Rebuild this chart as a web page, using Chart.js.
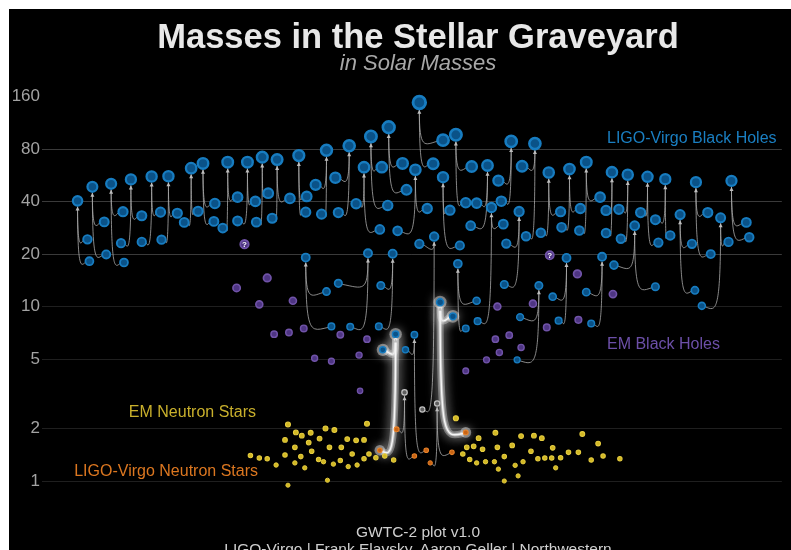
<!DOCTYPE html>
<html>
<head>
<meta charset="utf-8">
<script src="https://cdn.jsdelivr.net/npm/chart.js@4.4.1/dist/chart.umd.min.js"></script>
<style>
  html, body { margin: 0; padding: 0; background: #fff; overflow: hidden; }
  #frame { position: absolute; left: 9px; top: 9px; width: 782px; height: 541px; background: #000; overflow: hidden; }
  canvas { display: block; }
</style>
</head>
<body>
<div id="frame"><canvas id="graveyard" width="782" height="541"></canvas></div>
<script>
// --- DATA (masses in solar masses, x = column position on the plot) ---

const massTicks = [1, 2, 5, 10, 20, 40, 80, 160];

// LIGO-Virgo mergers: remnant + two components
const mergerX = [78, 93, 112, 132, 153, 170, 193, 205, 230, 250, 265, 280, 302, 330, 353, 368, 375, 393, 420, 424,
  461, 448, 493, 517, 497, 541, 525, 555, 576, 593, 619, 635, 655, 673, 704, 740, 729, 688, 642, 609,
  573, 545, 463, 309, 372, 397, 439, 419, 400, 445, 409, 442];
const remnantMass = [40.4, 48.6, 50.6, 53.6, 55.7, 55.9, 62.2, 66.2, 67.3, 67.3, 71.9, 69.7, 73.5, 78.8, 83.6, 63.0, 94.5, 106.8, 60.9, 148,
  96.6, 55.2, 64.4, 88.5, 37.0, 86.1, 35.1, 58.7, 61.5, 67.3, 59.0, 57.0, 55.5, 53.8, 51.7, 52.6, 32.3, 33.7, 29.1, 19.3,
  19.0, 13.2, 17.6, 19.1, 20.2, 20.1, 25.2, 6.9, 6.95, 10.6, 3.22, 2.78];
const firstX = [88, 105, 124, 143, 162, 179, 200, 217, 240, 258, 271, 293, 310, 319, 339, 360, 386, 407, 432, 448,
  477, 455, 482, 504, 509, 528, 512, 567, 587, 607, 613, 626, 648, 663, 716, 755, 737, 700, 621, 593,
  559, 526, 482, 330, 342, 385, 424, 410, 387, 458, 401, 457];
const firstMass = [24.3, 30.6, 35.0, 33.2, 34.8, 34.3, 35.2, 39.0, 42.4, 40.1, 44.7, 41.7, 42.8, 49.9, 54.8, 38.9, 63.0, 66.2, 36.5, 90.0,
  63.6, 35.7, 39.2, 52.8, 29.7, 63.8, 23.0, 35.0, 36.5, 42.4, 35.6, 36.1, 34.6, 31.5, 34.6, 30.4, 23.5, 22.9, 17.3, 12.1,
  11.4, 8.7, 10.8, 12.2, 13.6, 13.2, 22.9, 5.65, 5.65, 8.8, 1.98, 1.46];
const secondX = [90, 107, 125, 122, 143, 163, 186, 216, 225, 240, 259, 275, 309, 325, 342, 384, 392, 411, 402, 438,
  471, 465, 476, 507, 483, 532, 510, 547, 568, 586, 613, 628, 666, 678, 719, 758, 710, 703, 663, 598,
  565, 523, 471, 335, 354, 383, 427, 431, 384, 471, 419, 435];
const secondMass = [18.2, 19.9, 17.9, 23.1, 23.5, 24.2, 30.4, 30.8, 28.2, 31.0, 30.5, 32.1, 34.8, 33.9, 34.6, 27.7, 38.0, 46.7, 27.2, 65.9,
  39.4, 22.4, 29.1, 40.2, 8.25, 25.3, 13.4, 26.5, 28.5, 27.3, 26.4, 24.5, 23.3, 25.6, 20.0, 25.0, 10.1, 12.4, 13.0, 8.0,
  8.3, 4.95, 7.5, 7.7, 7.66, 7.7, 2.57, 1.50, 1.50, 1.90, 1.39, 1.27];
// remnant / first / second: B = black hole, N = neutron star, G = mass-gap object
const mergerType = Array(46).fill('BBB').concat(['BBG', 'BBN', 'BBN', 'BBN', 'GNN', 'GNN']);
const glowingMergers = [48, 49];

// EM black holes
const emBhX = [239, 270, 262, 296, 277, 292, 307, 344, 371, 318, 335, 363, 364, 503, 539, 553, 585, 620, 584, 501, 515, 527, 505, 492, 471];
const emBhMass = [12.8, 14.6, 10.3, 10.8, 6.95, 7.1, 7.5, 6.9, 6.5, 5.06, 4.86, 5.27, 3.29, 10.0, 10.4, 7.6, 8.4, 11.8, 15.4, 6.5, 6.86, 5.83, 5.46, 4.95, 4.28];
const emBhUncertainX = [247, 556];
const emBhUncertainMass = [22.8, 19.7];

// EM neutron stars
const emNsX = [253, 262, 270, 279, 288, 288, 291, 291, 298, 298, 299, 304, 305, 308, 312, 314, 315, 322, 323, 327,
  329, 331, 333, 337, 338, 344, 345, 351, 352, 356, 360, 361, 368, 368, 371, 373, 380, 389, 398, 461,
  468, 472, 479, 475, 482, 484, 488, 491, 500, 501, 503, 504, 510, 510, 518, 521, 524, 527, 529, 537,
  540, 544, 548, 551, 558, 559, 562, 567, 575, 585, 589, 598, 605, 610, 627];
const emNsMass = [1.40, 1.355, 1.34, 1.235, 1.41, 1.72, 2.11, 0.946, 1.27, 1.56, 1.90, 1.38, 1.82, 1.19, 1.66, 1.89, 1.48, 1.33, 1.75, 1.29,
  2.00, 1.01, 1.56, 1.25, 1.96, 1.31, 1.56, 1.74, 1.21, 1.43, 1.71, 1.235, 1.72, 1.34, 2.13, 1.43, 1.36, 1.39, 1.32, 2.29,
  1.43, 1.56, 1.58, 1.33, 1.27, 1.76, 1.52, 1.29, 1.29, 1.89, 1.56, 1.17, 1.38, 1.00, 1.60, 1.23, 1.07, 1.81, 1.29, 1.48,
  1.82, 1.34, 1.76, 1.355, 1.355, 1.55, 1.19, 1.36, 1.46, 1.46, 1.86, 1.32, 1.64, 1.39, 1.34];

// --- STYLE ---
const FONT = "'Liberation Sans', Arial, Helvetica, sans-serif";
const COLORS = {
    B: { fill: '#0a5288', edge: '#177cc0' },
    N: { fill: '#c86414', edge: '#e8822a' },
    G: { fill: '#5e5e5e', edge: '#c4c4c4' },
    emBh: { fill: '#4e3583', edge: '#7053a8' },
    emNs: { fill: '#d2b824', edge: '#e6cd40' }
};

function radiusFor(mass) {
    return 2.1 * Math.pow(mass, 0.22);
}

// --- BUILD POINT SETS ---
const groups = { B: [], N: [], G: [] };
mergerX.forEach((x, i) => {
    const t = mergerType[i];
    groups[t[0]].push({ x: x, y: remnantMass[i] });
    groups[t[1]].push({ x: firstX[i], y: firstMass[i] });
    groups[t[2]].push({ x: secondX[i], y: secondMass[i] });
});

function pointSet(label, data, color) {
    return {
        label: label,
        data: data,
        backgroundColor: color.fill,
        borderColor: color.edge,
        pointRadius: c => radiusFor(c.raw.y),
        pointBorderWidth: c => radiusFor(c.raw.y) * 0.45,
        pointHoverRadius: c => radiusFor(c.raw.y)
    };
}

// hook-shaped path from the remnant down to a component
function hookPath(ctx, rx, ry, rr, cx, cy, cr) {
    const dir = cx >= rx ? 1 : -1;
    const dx = Math.abs(cx - rx);
    ctx.beginPath();
    ctx.moveTo(rx, ry + rr + 1);
    ctx.bezierCurveTo(rx, cy + 10, rx + dir * Math.min(dx * 0.3, 5), cy + 5, cx - dir * cr, cy + 1);
}

const curvePlugin = {
    id: 'mergerCurves',
    beforeDatasetsDraw(chart) {
        const { ctx, scales: { x, y } } = chart;
        ctx.save();
        mergerX.forEach((mx, i) => {
            const rx = x.getPixelForValue(mx);
            const ry = y.getPixelForValue(remnantMass[i]);
            const rr = radiusFor(remnantMass[i]);
            const glow = glowingMergers.includes(i);
            const comps = [[firstX[i], firstMass[i]], [secondX[i], secondMass[i]]];

            if (glow) {
                // halos behind the highlighted points
                [[mx, remnantMass[i]]].concat(comps).forEach(([px, pm]) => {
                    ctx.save();
                    ctx.shadowColor = 'rgba(255,255,255,0.9)';
                    ctx.shadowBlur = 10;
                    ctx.fillStyle = 'rgba(230,230,230,0.45)';
                    ctx.beginPath();
                    ctx.arc(x.getPixelForValue(px), y.getPixelForValue(pm), radiusFor(pm) + 3, 0, Math.PI * 2);
                    ctx.fill();
                    ctx.restore();
                });
            }

            comps.forEach(([cxv, cm]) => {
                const cx = x.getPixelForValue(cxv);
                const cy = y.getPixelForValue(cm);
                const cr = radiusFor(cm);
                if (glow) {
                    ctx.save();
                    ctx.shadowColor = 'rgba(255,255,255,0.95)';
                    ctx.shadowBlur = 12;
                    ctx.strokeStyle = 'rgba(210,210,210,0.4)';
                    ctx.lineWidth = 7;
                    hookPath(ctx, rx, ry, rr, cx, cy, cr);
                    ctx.stroke();
                    ctx.lineWidth = 3.5;
                    ctx.strokeStyle = 'rgba(235,235,235,0.5)';
                    ctx.stroke();
                    ctx.restore();
                }
                ctx.strokeStyle = glow ? '#f6f6f6' : 'rgba(170,170,170,0.8)';
                ctx.lineWidth = glow ? 1.4 : 1;
                hookPath(ctx, rx, ry, rr, cx, cy, cr);
                ctx.stroke();
            });

            // little arrow head under the remnant
            const tip = ry + rr + 1;
            ctx.fillStyle = '#bdbdbd';
            ctx.beginPath();
            ctx.moveTo(rx, tip);
            ctx.lineTo(rx - 2, tip + 4);
            ctx.lineTo(rx + 2, tip + 4);
            ctx.closePath();
            ctx.fill();
        });
        ctx.restore();
    }
};

const textPlugin = {
    id: 'graveyardText',
    afterDraw(chart) {
        const { ctx, scales: { x, y } } = chart;
        ctx.save();

        // question marks on the uncertain EM black holes
        ctx.fillStyle = '#ffffff';
        ctx.font = `bold 8px ${FONT}`;
        ctx.textAlign = 'center';
        ctx.textBaseline = 'middle';
        emBhUncertainX.forEach((v, i) => {
            ctx.fillText('?', x.getPixelForValue(v), y.getPixelForValue(emBhUncertainMass[i]) + 0.5);
        });

        ctx.textBaseline = 'alphabetic';
        ctx.fillStyle = '#e8e8e8';
        ctx.font = `bold 34.5px ${FONT}`;
        ctx.fillText('Masses in the Stellar Graveyard', 409, 39);

        ctx.fillStyle = '#a8a8a8';
        ctx.font = `italic 22px ${FONT}`;
        ctx.fillText('in Solar Masses', 409, 61);

        ctx.fillStyle = '#cfcfcf';
        ctx.font = `15.5px ${FONT}`;
        ctx.fillText('GWTC-2 plot v1.0', 409, 528);
        ctx.fillText('LIGO-Virgo | Frank Elavsky, Aaron Geller | Northwestern', 409, 545);

        ctx.font = `16px ${FONT}`;
        ctx.textBaseline = 'middle';
        ctx.textAlign = 'left';
        ctx.fillStyle = '#1a7fc2';
        ctx.fillText('LIGO-Virgo Black Holes', 598, 130);
        ctx.fillStyle = '#6c4fa8';
        ctx.fillText('EM Black Holes', 598, 336);
        ctx.textAlign = 'right';
        ctx.fillStyle = '#c9b02c';
        ctx.fillText('EM Neutron Stars', 247, 404);
        ctx.fillStyle = '#dc7720';
        ctx.fillText('LIGO-Virgo Neutron Stars', 249, 463);

        ctx.restore();
    }
};

new Chart(document.getElementById('graveyard'), {
    type: 'scatter',
    data: {
        datasets: [
            pointSet('LIGO-Virgo Black Holes', groups.B, COLORS.B),
            pointSet('Mass gap', groups.G, COLORS.G),
            pointSet('LIGO-Virgo Neutron Stars', groups.N, COLORS.N),
            pointSet('EM Black Holes (uncertain)', emBhUncertainX.map((v, i) => ({ x: v, y: emBhUncertainMass[i] })), COLORS.emBh),
            pointSet('EM Black Holes', emBhX.map((v, i) => ({ x: v, y: emBhMass[i] })), COLORS.emBh),
            pointSet('EM Neutron Stars', emNsX.map((v, i) => ({ x: v, y: emNsMass[i] })), COLORS.emNs)
        ]
    },
    options: {
        responsive: false,
        animation: false,
        devicePixelRatio: 1,
        events: [],
        layout: { padding: { top: 77.5, bottom: 48.5, left: 0, right: 0 } },
        scales: {
            x: { type: 'linear', min: 42, max: 791, display: false },
            y: {
                type: 'logarithmic',
                min: 0.763,
                max: 182.8,
                afterFit: (scale) => { scale.width = 33; },
                afterBuildTicks: (scale) => { scale.ticks = massTicks.map(v => ({ value: v })); },
                border: { display: false },
                grid: {
                    drawTicks: false,
                    lineWidth: 1,
                    color: (c) => {
                        const v = c.tick && c.tick.value;
                        if (v === 160) return 'rgba(0,0,0,0)';
                        return v >= 20 ? '#3a3a3a' : '#1f1f1f';
                    }
                },
                ticks: {
                    autoSkip: false,
                    padding: 2,
                    color: '#a3a3a3',
                    font: { family: FONT, size: 17 },
                    callback: (v) => String(v)
                }
            }
        },
        plugins: {
            legend: { display: false },
            tooltip: { enabled: false },
            title: { display: false }
        }
    },
    plugins: [curvePlugin, textPlugin]
});
</script>
</body>
</html>
